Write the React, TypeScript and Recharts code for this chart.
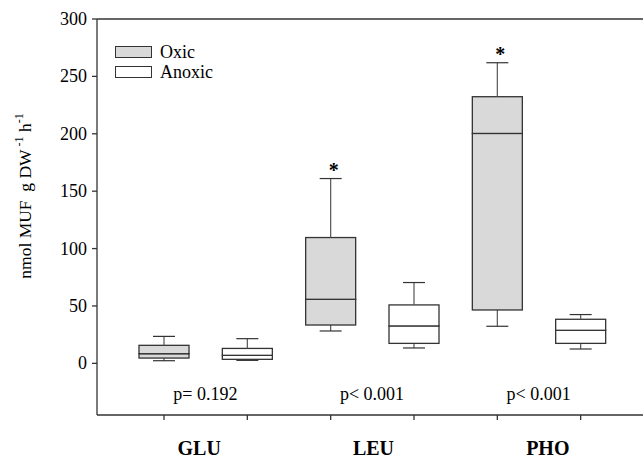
import React from 'react';
import {
  ComposedChart,
  Bar,
  XAxis,
  YAxis,
  ReferenceLine,
  ReferenceDot,
} from 'recharts';

// Box plot of MUF hydrolysis rates per substrate, oxic vs anoxic
const substrates = ['GLU', 'LEU', 'PHO'];
const conditions = ['Oxic', 'Anoxic'];
const conditionFills = ['#d9d9d9', '#ffffff'];

// one entry per box, ordered GLU oxic, GLU anoxic, LEU oxic, ...
const whiskerLow = [2.3, 2.6, 28.2, 13.4, 32.3, 12.5];
const quartile1 = [4.6, 3.5, 33.4, 17.4, 46.5, 17.4];
const medians = [8.4, 7.0, 55.8, 32.6, 200.3, 28.8];
const quartile3 = [15.7, 13.0, 109.6, 50.9, 232.3, 38.4];
const whiskerHigh = [23.5, 21.5, 161.0, 70.4, 261.9, 42.5];
const significant = [false, false, true, false, true, false];

const pValueLabels = ['p= 0.192', 'p< 0.001', 'p< 0.001'];
const pValueY = -26;
const yTicks = [0, 50, 100, 150, 200, 250, 300];
const Y_MIN = -45;
const Y_MAX = 300;

const FONT = "'Liberation Serif', 'Times New Roman', Times, serif";
const LINE = '#333333';

const boxData = medians.map((median, i) => {
  const substrate = substrates[Math.floor(i / 2)];
  const condition = conditions[i % 2];
  return {
    id: `${substrate}-${condition}`,
    substrate,
    fill: conditionFills[i % 2],
    sig: significant[i],
    base: whiskerLow[i],
    lowWhisker: quartile1[i] - whiskerLow[i],
    lowBox: median - quartile1[i],
    highBox: quartile3[i] - median,
    highWhisker: whiskerHigh[i] - quartile3[i],
  };
});

const CAP = 22;

// the base segment (0 .. lower whisker) is not drawn; its pixel height gives
// the y scale, used to put a tick under the box on the x axis line
const BaseSegment = (props: any) => {
  const { x, y, width, height, payload } = props;
  if (!payload || !payload.base || !height) return <g />;
  const cx = x + width / 2;
  const h = Math.abs(height);
  const zeroY = Math.max(y, y + height);
  const bottom = zeroY + (0 - Y_MIN) * (h / payload.base);
  return <line x1={cx} x2={cx} y1={bottom} y2={bottom + 5} stroke={LINE} strokeWidth={1.3} />;
};

const LowWhisker = (props: any) => {
  const { x, y, width, height } = props;
  const cx = x + width / 2;
  const top = Math.min(y, y + height);
  const bottom = Math.max(y, y + height);
  return (
    <g>
      <line x1={cx} x2={cx} y1={top} y2={bottom} stroke="#555" strokeWidth={1.2} />
      <line x1={cx - CAP / 2} x2={cx + CAP / 2} y1={bottom} y2={bottom} stroke={LINE} strokeWidth={1.2} />
    </g>
  );
};

const HighWhisker = (props: any) => {
  const { x, y, width, height, payload } = props;
  const cx = x + width / 2;
  const top = Math.min(y, y + height);
  const bottom = Math.max(y, y + height);
  return (
    <g>
      <line x1={cx} x2={cx} y1={top} y2={bottom} stroke="#555" strokeWidth={1.2} />
      <line x1={cx - CAP / 2} x2={cx + CAP / 2} y1={top} y2={top} stroke={LINE} strokeWidth={1.2} />
      {payload && payload.sig && (
        <text x={cx + 3} y={top - 2} textAnchor="middle" fontFamily={FONT} fontWeight="bold" fontSize={20} fill="#000">
          *
        </text>
      )}
    </g>
  );
};

const BoxHalf = (props: any) => {
  const { x, y, width, height, payload } = props;
  const top = Math.min(y, y + height);
  const h = Math.abs(height);
  return (
    <rect x={x} y={top} width={width} height={h} fill={payload ? payload.fill : '#fff'} stroke={LINE} strokeWidth={1.3} />
  );
};

const EmptyTick = () => <g />;

const GroupTick = (props: any) => {
  const { x, y, payload } = props;
  return (
    <text x={x} y={y} dy={14} textAnchor="middle" fontFamily={FONT} fontWeight="bold" fontSize={20} fill="#000">
      {payload.value}
    </text>
  );
};

const YTick = (props: any) => {
  const { x, y, payload } = props;
  return (
    <text x={x} y={y} dy={6} textAnchor="end" fontFamily={FONT} fontSize={18} fill="#000">
      {payload.value}
    </text>
  );
};

const YLabel = (props: any) => {
  const { viewBox } = props;
  const cx = 25;
  const cy = viewBox ? viewBox.y + viewBox.height / 2 - 21 : 196;
  return (
    <text
      transform={`translate(${cx}, ${cy}) rotate(-90)`}
      textAnchor="middle"
      dominantBaseline="central"
      fontFamily={FONT}
      fontSize={17.5}
      fill="#000"
    >
      nmol MUF{'\u00a0\u00a0'}g DW
      <tspan dy={-6} fontSize={12}>{'\u00a0-1'}</tspan>
      <tspan dy={6}>{'\u00a0h'}</tspan>
      <tspan dy={-6} fontSize={12}>-1</tspan>
    </text>
  );
};

const ConditionLegend = () => (
  <div
    style={{
      position: 'absolute',
      left: 115,
      top: 42,
      fontFamily: FONT,
      fontSize: 18,
      lineHeight: '20px',
      color: '#000',
    }}
  >
    {conditions.map((name, i) => (
      <div key={name} style={{ display: 'flex', alignItems: 'center', height: 20 }}>
        <span
          style={{
            display: 'inline-block',
            width: 35,
            height: 10,
            background: conditionFills[i],
            border: `1px solid ${LINE}`,
            marginRight: 8,
          }}
        />
        <span>{name}</span>
      </div>
    ))}
  </div>
);

export default function App() {
  return (
    <div style={{ position: 'fixed', left: 0, top: 0, width: 643, height: 461, background: '#fff' }}>
      <ComposedChart
        width={643}
        height={461}
        data={boxData}
        margin={{ top: 19, right: 0, bottom: 0, left: 0 }}
      >
        <XAxis
          xAxisId="b-substrate"
          dataKey="substrate"
          type="category"
          allowDuplicatedCategory={false}
          height={34}
          interval={0}
          padding={{ left: 15, right: 8 }}
          axisLine={false}
          tickLine={false}
          tickSize={0}
          tickMargin={14}
          tick={GroupTick}
        />
        <XAxis
          xAxisId="a-box"
          dataKey="id"
          type="category"
          height={12}
          interval={0}
          padding={{ left: 25, right: 21 }}
          tickLine={false}
          tick={EmptyTick}
          axisLine={{ stroke: LINE, strokeWidth: 1.3 }}
        />
        <XAxis
          xAxisId="c-pvalue"
          dataKey="substrate"
          type="category"
          allowDuplicatedCategory={false}
          padding={{ left: 25, right: 21 }}
          hide
        />
        <YAxis
          type="number"
          domain={[Y_MIN, Y_MAX]}
          ticks={yTicks}
          width={97}
          tickSize={5}
          tickMargin={5}
          tick={YTick}
          axisLine={{ stroke: LINE, strokeWidth: 1.3 }}
          tickLine={{ stroke: LINE, strokeWidth: 1.3 }}
          label={{ content: YLabel }}
        />
        <ReferenceLine xAxisId="a-box" y={Y_MAX} stroke={LINE} strokeWidth={1.3} />
        <Bar xAxisId="a-box" dataKey="base" stackId="box" barSize={50} shape={BaseSegment} isAnimationActive={false} />
        <Bar xAxisId="a-box" dataKey="lowWhisker" stackId="box" barSize={50} shape={LowWhisker} isAnimationActive={false} />
        <Bar xAxisId="a-box" dataKey="lowBox" stackId="box" barSize={50} shape={BoxHalf} isAnimationActive={false} />
        <Bar xAxisId="a-box" dataKey="highBox" stackId="box" barSize={50} shape={BoxHalf} isAnimationActive={false} />
        <Bar xAxisId="a-box" dataKey="highWhisker" stackId="box" barSize={50} shape={HighWhisker} isAnimationActive={false} />
        {substrates.map((s, i) => (
          <ReferenceDot
            key={s}
            xAxisId="c-pvalue"
            x={s}
            y={pValueY}
            r={0}
            stroke="none"
            label={{ value: pValueLabels[i], position: 'center', fontFamily: FONT, fontSize: 18, fill: '#000' }}
          />
        ))}
      </ComposedChart>
      <ConditionLegend />
    </div>
  );
}
